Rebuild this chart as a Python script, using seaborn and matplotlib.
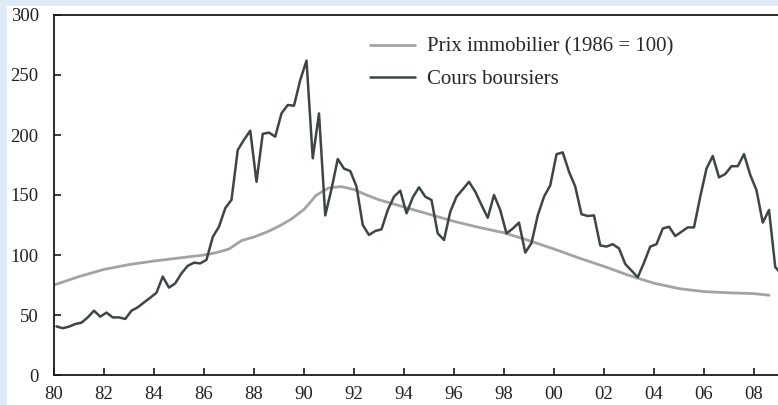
import numpy as np
import pandas as pd
import matplotlib.pyplot as plt
import seaborn as sns
from matplotlib.patches import Rectangle

# stock index, quarterly from 1980
stock_start = 80.1
stock_values = [
    40.5, 39, 40.3, 42.5, 43.6, 48, 53.6, 48.6,
    52, 48, 48, 46.7, 53.6, 56.4, 60.5, 64.4,
    68.6, 82, 72.8, 76.4, 84.7, 91, 93.6, 93,
    96, 115, 123.6, 139, 146, 187.5, 196, 203.6,
    161, 201, 202, 198.6, 218, 225, 224.4, 245.8,
    262, 180.6, 218, 133, 155, 180, 172, 170,
    157, 125, 116.7, 120, 121.4, 137.5, 148.6, 153.6,
    134.7, 148, 156.4, 148.6, 145.8, 118, 112.5, 136,
    148.6, 154.7, 161, 152.8, 141.7, 131, 150, 137.5,
    118, 122, 127, 102, 110, 133, 148.6, 158,
    184, 185.5, 169.4, 157, 134, 132.5, 133, 108,
    107, 109, 105.5, 92.5, 87, 81.4, 93.6, 107,
    109, 122, 123.6, 115.8, 119.4, 123, 123, 148.6,
    172, 182.5, 164.7, 167.5, 174, 174, 184, 166.7,
    154, 127, 137.5, 90, 84,
]

# real estate price index (1986 = 100)
house_years = [80.0, 81, 82, 83, 84, 85, 86, 86.5, 87, 87.5, 88, 88.5, 89, 89.5,
               90, 90.5, 91, 91.5, 92, 92.5, 93, 94, 95, 96, 97, 98, 99, 100,
               101, 102, 103, 104, 105, 106, 107, 108, 108.6]
house_values = [75, 82, 88, 92, 95, 97.5, 100, 102, 105, 112, 115, 119, 124, 130,
                138, 150, 156, 157, 154.5, 150, 146, 140, 134, 128, 123, 118.5, 112, 105,
                97.5, 90.5, 83, 76.5, 72, 69.5, 68.5, 67.8, 66.5]

x_ticks = list(range(80, 109, 2))
x_ticklabels = [f"{t % 100:02d}" for t in x_ticks]
y_ticks = [0, 50, 100, 150, 200, 250, 300]

label_house = "Prix immobilier (1986 = 100)"
label_stock = "Cours boursiers"

stock_df = pd.DataFrame({
    "year": stock_start + 0.25 * np.arange(len(stock_values)),
    "value": stock_values,
})
house_df = pd.DataFrame({"year": house_years, "value": house_values})

sns.set_style("ticks")
plt.rcParams["font.family"] = ["Liberation Serif", "DejaVu Serif"]

fig = plt.figure(figsize=(7.78, 4.05), dpi=100)
fig.patch.set_facecolor("#dfeaf7")
fig.patches.append(Rectangle((7 / 778, 0), 1, 1 - 6 / 405, transform=fig.transFigure,
                             facecolor="white", edgecolor="none", zorder=-10))

ax = fig.add_axes([54 / 778, 1 - 375 / 405, 1 - 54 / 778, (375 - 15) / 405])
ax.set_zorder(5)
ax.set_facecolor("white")

sns.lineplot(data=house_df, x="year", y="value", ax=ax, color="#a3a3a3",
             linewidth=2.0, label=label_house)
sns.lineplot(data=stock_df, x="year", y="value", ax=ax, color="#3e4547",
             linewidth=1.8, label=label_stock)

ax.set_xlim(80, 108.96)
ax.set_ylim(0, 300)
ax.set_xticks(x_ticks)
ax.set_xticklabels(x_ticklabels)
ax.set_yticks(y_ticks)
ax.set_xlabel("")
ax.set_ylabel("")

for side in ["left", "bottom", "top"]:
    ax.spines[side].set_linewidth(1.3)
    ax.spines[side].set_color("#1a1a1a")
ax.spines["right"].set_visible(False)
ax.tick_params(direction="in", length=5, width=1.2, color="#1a1a1a",
               labelsize=13.5, labelcolor="#222222")
ax.tick_params(axis="y", pad=11)
ax.tick_params(axis="x", pad=8)

ax.legend(loc="upper left", bbox_to_anchor=(0.4105, 0.99), frameon=False,
          fontsize=15, handlelength=2.16, handletextpad=0.58, labelspacing=0.6)

fig.savefig("out.png", dpi=100, facecolor=fig.get_facecolor())
